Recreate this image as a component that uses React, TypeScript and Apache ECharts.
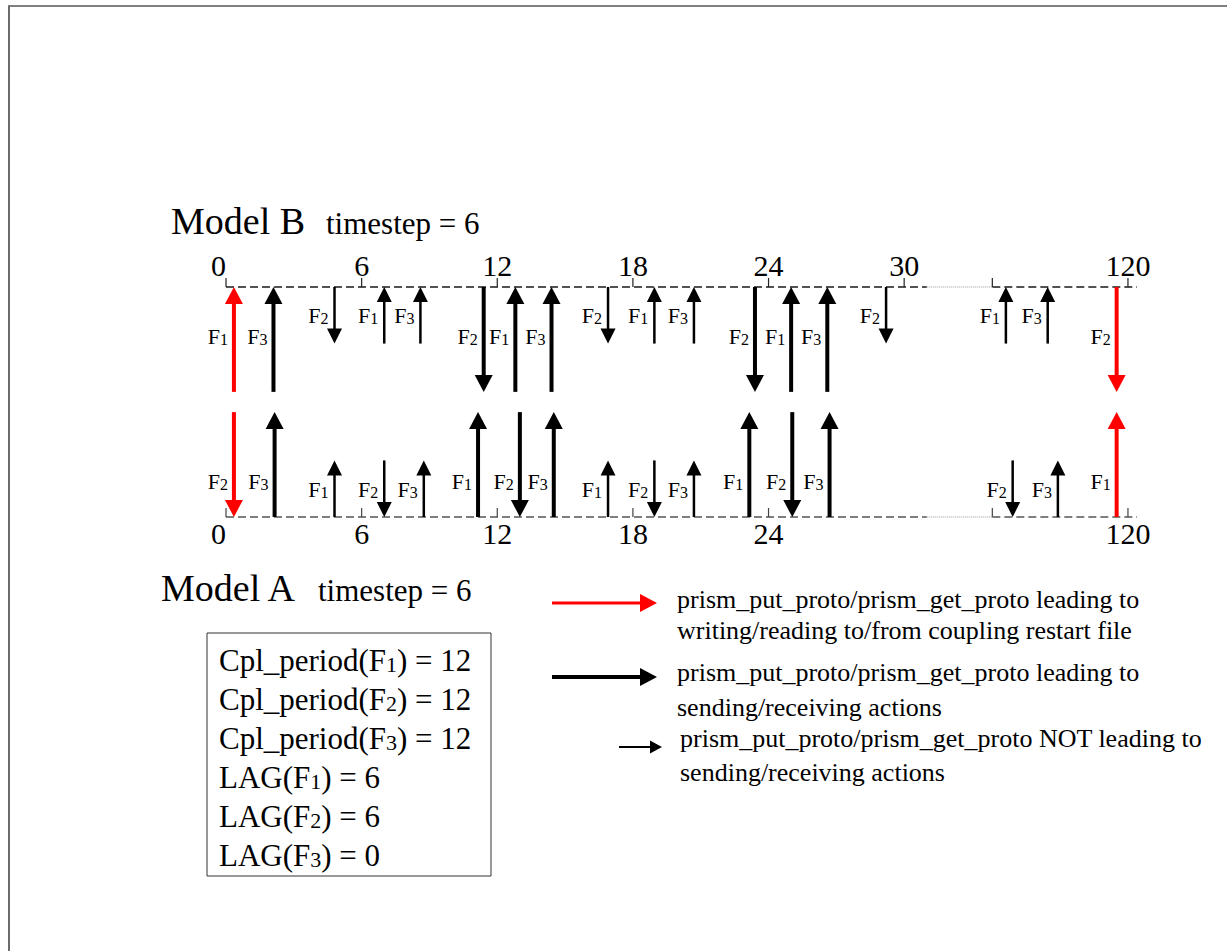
import React, { useEffect, useRef } from 'react';
import * as echarts from 'echarts';

type Kind = 'restart' | 'send' | 'none';
type Action = 'get' | 'put';
type Ev = [string, number, Action, Kind];

// ---------------- DATA ----------------
// Model B (top timeline): [field, time, action, kind]
const MODEL_B_EVENTS: Ev[] = [
  ['F1', 0.35, 'get', 'restart'],
  ['F3', 2.1, 'get', 'send'],
  ['F2', 4.8, 'put', 'none'],
  ['F1', 7.0, 'get', 'none'],
  ['F3', 8.6, 'get', 'none'],
  ['F2', 11.4, 'put', 'send'],
  ['F1', 12.8, 'get', 'send'],
  ['F3', 14.4, 'get', 'send'],
  ['F2', 16.9, 'put', 'none'],
  ['F1', 18.95, 'get', 'none'],
  ['F3', 20.7, 'get', 'none'],
  ['F2', 23.4, 'put', 'send'],
  ['F1', 25.0, 'get', 'send'],
  ['F3', 26.6, 'get', 'send'],
  ['F2', 29.2, 'put', 'none'],
  ['F1', 114.6, 'get', 'none'],
  ['F3', 116.45, 'get', 'none'],
  ['F2', 119.5, 'put', 'restart'],
];

// Model A (bottom timeline)
const MODEL_A_EVENTS: Ev[] = [
  ['F2', 0.35, 'get', 'restart'],
  ['F3', 2.15, 'put', 'send'],
  ['F1', 4.8, 'put', 'none'],
  ['F2', 7.0, 'get', 'none'],
  ['F3', 8.75, 'put', 'none'],
  ['F1', 11.15, 'put', 'send'],
  ['F2', 13.0, 'get', 'send'],
  ['F3', 14.5, 'put', 'send'],
  ['F1', 16.9, 'put', 'none'],
  ['F2', 18.95, 'get', 'none'],
  ['F3', 20.7, 'put', 'none'],
  ['F1', 23.15, 'put', 'send'],
  ['F2', 25.05, 'get', 'send'],
  ['F3', 26.7, 'put', 'send'],
  ['F2', 114.9, 'get', 'none'],
  ['F3', 116.9, 'put', 'none'],
  ['F1', 119.5, 'put', 'restart'],
];

const MODEL_B_TICKS = [0, 6, 12, 18, 24, 30, 114, 120];
const MODEL_B_LABELS = [0, 6, 12, 18, 24, 30, 120];
const MODEL_A_TICKS = [0, 6, 12, 18, 24, 114, 120];
const MODEL_A_LABELS = [0, 6, 12, 18, 24, 120];

const BREAK_FROM = 31;
const BREAK_TO = 114;
const TIME_END = 120.4;
const TIMELINE_SEGMENTS: [number, number, 'dashed' | 'dotted'][] = [
  [0, BREAK_FROM, 'dashed'],
  [BREAK_FROM, BREAK_TO, 'dotted'],
  [BREAK_TO, TIME_END, 'dashed'],
];

const MODEL_B_INFO = ['Model B', 'timestep = 6'];
const MODEL_A_INFO = ['Model A', 'timestep = 6'];
const CPL_PERIODS: [string, number][] = [['F1', 12], ['F2', 12], ['F3', 12]];
const LAGS: [string, number][] = [['F1', 6], ['F2', 6], ['F3', 0]];
const LEGEND_ITEMS: [Kind, string, string][] = [
  ['restart', 'prism_put_proto/prism_get_proto leading to', 'writing/reading to/from coupling restart file'],
  ['send', 'prism_put_proto/prism_get_proto leading to', 'sending/receiving actions'],
  ['none', 'prism_put_proto/prism_get_proto NOT leading to', 'sending/receiving actions'],
];

// ---------------- STYLE ----------------
const FONT = '"Times New Roman", "Liberation Serif", "DejaVu Serif", serif';
const BREAK_GAP = 2.9;
const KIND_STYLE: Record<Kind, { color: string; width: number; headW: number; headL: number; long: boolean }> = {
  restart: { color: '#ff0000', width: 4, headW: 18, headL: 17, long: true },
  send: { color: '#000000', width: 4, headW: 18, headL: 17, long: true },
  none: { color: '#000000', width: 2.5, headW: 15, headL: 15, long: false },
};
const LONG_LEN = 45.6;
const SHORT_LEN = 24.6;
const TICK_LEN = 9;

function compress(t: number): number {
  return t <= BREAK_FROM ? t : BREAK_FROM + BREAK_GAP + (t - BREAK_TO);
}
function decompress(v: number): number {
  return v <= BREAK_FROM + 1e-6 ? v : v - BREAK_FROM - BREAK_GAP + BREAK_TO;
}

const fLabelRich = {
  f: { fontSize: 22, fontFamily: FONT, fill: '#000', textFill: '#000', lineHeight: 23, verticalAlign: 'bottom', textVerticalAlign: 'bottom' },
  s: { fontSize: 16, fontFamily: FONT, fill: '#000', textFill: '#000', lineHeight: 19, verticalAlign: 'bottom', textVerticalAlign: 'bottom' },
};

function arrowRenderer(events: Ev[], axisValue: number, awaySign: number, fracLong: number, fracShort: number) {
  return (params: any, api: any) => {
    const [field, t, action, kind] = events[params.dataIndex];
    const st = KIND_STYLE[kind];
    const len = st.long ? LONG_LEN : SHORT_LEN;
    const cx = compress(t);
    const pAxis = api.coord([cx, axisValue]);
    const pFar = api.coord([cx, axisValue + awaySign * len]);
    const x = pAxis[0];
    const tipY = action === 'get' ? pAxis[1] : pFar[1];
    const tailY = action === 'get' ? pFar[1] : pAxis[1];
    const dir = tipY > tailY ? 1 : -1;
    const baseY = tipY - dir * st.headL;
    const frac = st.long ? fracLong : fracShort;
    const labelY = api.coord([cx, axisValue + awaySign * len * frac])[1];
    return {
      type: 'group',
      children: [
        {
          type: 'line',
          shape: { x1: x, y1: tailY, x2: x, y2: baseY + dir * 1 },
          style: { stroke: st.color, lineWidth: st.width },
        },
        {
          type: 'polygon',
          shape: { points: [[x, tipY], [x - st.headW / 2, baseY], [x + st.headW / 2, baseY]] },
          style: { fill: st.color },
        },
        {
          type: 'text',
          x: x - 6,
          y: labelY,
          style: {
            text: `{f|F}{s|${field.slice(1)}}`,
            rich: fLabelRich,
            align: 'right',
            textAlign: 'right',
            verticalAlign: 'middle',
            textVerticalAlign: 'middle',
          },
        },
      ],
    };
  };
}

function timelineRenderer(axisValue: number, dashColor: string) {
  return (params: any, api: any) => {
    const seg = TIMELINE_SEGMENTS[params.dataIndex];
    const p1 = api.coord([compress(seg[0]), axisValue]);
    const p2 = api.coord([compress(seg[1]), axisValue]);
    const dotted = seg[2] === 'dotted';
    return {
      type: 'line',
      shape: { x1: p1[0], y1: p1[1], x2: p2[0], y2: p2[1] },
      style: {
        stroke: dotted ? '#9a9a9a' : dashColor,
        lineWidth: dotted ? 1 : 1.5,
        lineDash: dotted ? [1, 1] : [8, 4],
      },
    };
  };
}

function tickRenderer(ticks: number[], axisValue: number, color: string) {
  return (params: any, api: any) => {
    const p = api.coord([compress(ticks[params.dataIndex]), axisValue]);
    return {
      type: 'line',
      shape: { x1: p[0], y1: p[1], x2: p[0], y2: p[1] - TICK_LEN },
      style: { stroke: color, lineWidth: 1.2 },
    };
  };
}

function makeXAxis(position: 'top' | 'bottom', labels: number[], margin: number) {
  return {
    type: 'value',
    gridIndex: 0,
    position,
    min: 0,
    max: compress(TIME_END),
    axisLine: { show: false },
    splitLine: { show: false },
    axisTick: { show: false },
    axisLabel: {
      show: true,
      customValues: labels.map(compress),
      margin,
      fontSize: 30,
      fontFamily: FONT,
      color: '#000',
      alignMinLabel: 'right',
      formatter: (v: number) => String(Math.round(decompress(v))),
    },
  };
}

function txt(x: number, y: number, text: string, fontSize: number, align = 'left') {
  return {
    type: 'text',
    x,
    y,
    style: {
      text,
      fontSize,
      fontFamily: FONT,
      fill: '#000',
      textFill: '#000',
      align,
      textAlign: align,
      verticalAlign: 'middle',
      textVerticalAlign: 'middle',
    },
  };
}

const boxRich = {
  n: { fontSize: 31, fontFamily: FONT, fill: '#000', textFill: '#000', lineHeight: 39, verticalAlign: 'bottom', textVerticalAlign: 'bottom' },
  s: { fontSize: 22, fontFamily: FONT, fill: '#000', textFill: '#000', lineHeight: 33, verticalAlign: 'bottom', textVerticalAlign: 'bottom' },
};

function richLine(prefix: string, field: string, suffix: string) {
  return `{n|${prefix}F}{s|${field.slice(1)}}{n|${suffix}}`;
}

function legendArrow(kind: Kind, x1: number, x2: number, y: number) {
  const st = KIND_STYLE[kind];
  const headL = kind === 'none' ? 12 : 17;
  const headW = kind === 'none' ? 13 : 18;
  const w = kind === 'restart' ? 3 : kind === 'send' ? 4 : 2;
  return [
    { type: 'line', shape: { x1, y1: y, x2: x2 - headL + 1, y2: y }, style: { stroke: st.color, lineWidth: w } },
    {
      type: 'polygon',
      shape: { points: [[x2, y], [x2 - headL, y - headW / 2], [x2 - headL, y + headW / 2]] },
      style: { fill: st.color },
    },
  ];
}

function buildOption() {
  const boxLines = [
    ...CPL_PERIODS.map(([f, v]) => richLine('Cpl_period(', f, `) = ${v}`)),
    ...LAGS.map(([f, v]) => richLine('LAG(', f, `) = ${v}`)),
  ];

  const legendGeom: [number, number, number, number, number, number][] = [
    // x1, x2, arrowY, textX, line1Y, line2Y
    [552, 657, 603, 677, 599, 630],
    [552, 657, 677, 677, 672, 707],
    [619, 662, 747, 680, 738, 772],
  ];

  const graphics: any[] = [
    // page frame
    { type: 'line', shape: { x1: 8, y1: 6, x2: 1227, y2: 6 }, style: { stroke: '#000', lineWidth: 1 } },
    { type: 'line', shape: { x1: 9, y1: 6, x2: 9, y2: 951 }, style: { stroke: '#6b6b6b', lineWidth: 2 } },
    // model titles
    txt(171, 221, MODEL_B_INFO[0], 38),
    txt(326, 223, MODEL_B_INFO[1], 31),
    txt(161, 588, MODEL_A_INFO[0], 38),
    txt(318, 590, MODEL_A_INFO[1], 31),
    // parameter box
    { type: 'rect', shape: { x: 207, y: 633, width: 284, height: 243 }, style: { fill: 'none', stroke: '#333', lineWidth: 1 } },
    ...boxLines.map((line, i) => ({
      type: 'text',
      x: 219,
      y: 656 + i * 39,
      style: {
        text: line,
        rich: boxRich,
        align: 'left',
        textAlign: 'left',
        verticalAlign: 'middle',
        textVerticalAlign: 'middle',
      },
    })),
  ];

  LEGEND_ITEMS.forEach(([kind, l1, l2], i) => {
    const [x1, x2, ay, tx, y1, y2] = legendGeom[i];
    graphics.push(...legendArrow(kind, x1, x2, ay));
    graphics.push(txt(tx, y1, l1, 26));
    graphics.push(txt(tx, y2, l2, 26));
  });

  return {
    animation: false,
    backgroundColor: '#ffffff',
    grid: { left: 226, right: 90, top: 287, bottom: 434, containLabel: false },
    xAxis: [makeXAxis('top', MODEL_B_LABELS, 7), makeXAxis('bottom', MODEL_A_LABELS, 1)],
    yAxis: { type: 'value', min: 0, max: 100, show: false },
    series: [
      {
        type: 'custom',
        name: 'Model B timeline',
        xAxisIndex: 0,
        silent: true,
        renderItem: timelineRenderer(100, '#1a1a1a'),
        encode: { x: [0, 2], y: 1 },
        data: TIMELINE_SEGMENTS.map((s) => [compress(s[0]), 100, compress(s[1])]),
      },
      {
        type: 'custom',
        name: 'Model A timeline',
        xAxisIndex: 1,
        silent: true,
        renderItem: timelineRenderer(0, '#555555'),
        encode: { x: [0, 2], y: 1 },
        data: TIMELINE_SEGMENTS.map((s) => [compress(s[0]), 0, compress(s[1])]),
      },
      {
        type: 'custom',
        name: 'Model B ticks',
        xAxisIndex: 0,
        silent: true,
        renderItem: tickRenderer(MODEL_B_TICKS, 100, '#222'),
        encode: { x: 0, y: 1 },
        data: MODEL_B_TICKS.map((t) => [compress(t), 100]),
      },
      {
        type: 'custom',
        name: 'Model A ticks',
        xAxisIndex: 1,
        silent: true,
        renderItem: tickRenderer(MODEL_A_TICKS, 0, '#444'),
        encode: { x: 0, y: 1 },
        data: MODEL_A_TICKS.map((t) => [compress(t), 0]),
      },
      {
        type: 'custom',
        name: 'Model B',
        xAxisIndex: 0,
        silent: true,
        renderItem: arrowRenderer(MODEL_B_EVENTS, 100, -1, 0.47, 0.5),
        encode: { x: 0, y: 1 },
        data: MODEL_B_EVENTS.map((e) => [compress(e[1]), 100]),
      },
      {
        type: 'custom',
        name: 'Model A',
        xAxisIndex: 1,
        silent: true,
        renderItem: arrowRenderer(MODEL_A_EVENTS, 0, 1, 0.34, 0.49),
        encode: { x: 0, y: 1 },
        data: MODEL_A_EVENTS.map((e) => [compress(e[1]), 0]),
      },
    ],
    graphic: { elements: graphics },
  };
}

export default function App() {
  const ref = useRef<HTMLDivElement>(null);
  useEffect(() => {
    if (!ref.current) return;
    const chart = echarts.init(ref.current, null, { renderer: 'svg' });
    chart.setOption(buildOption() as any);
    return () => chart.dispose();
  }, []);
  return (
    <div
      ref={ref}
      style={{ position: 'fixed', left: 0, top: 0, width: 1227, height: 951, background: '#fff' }}
    />
  );
}
